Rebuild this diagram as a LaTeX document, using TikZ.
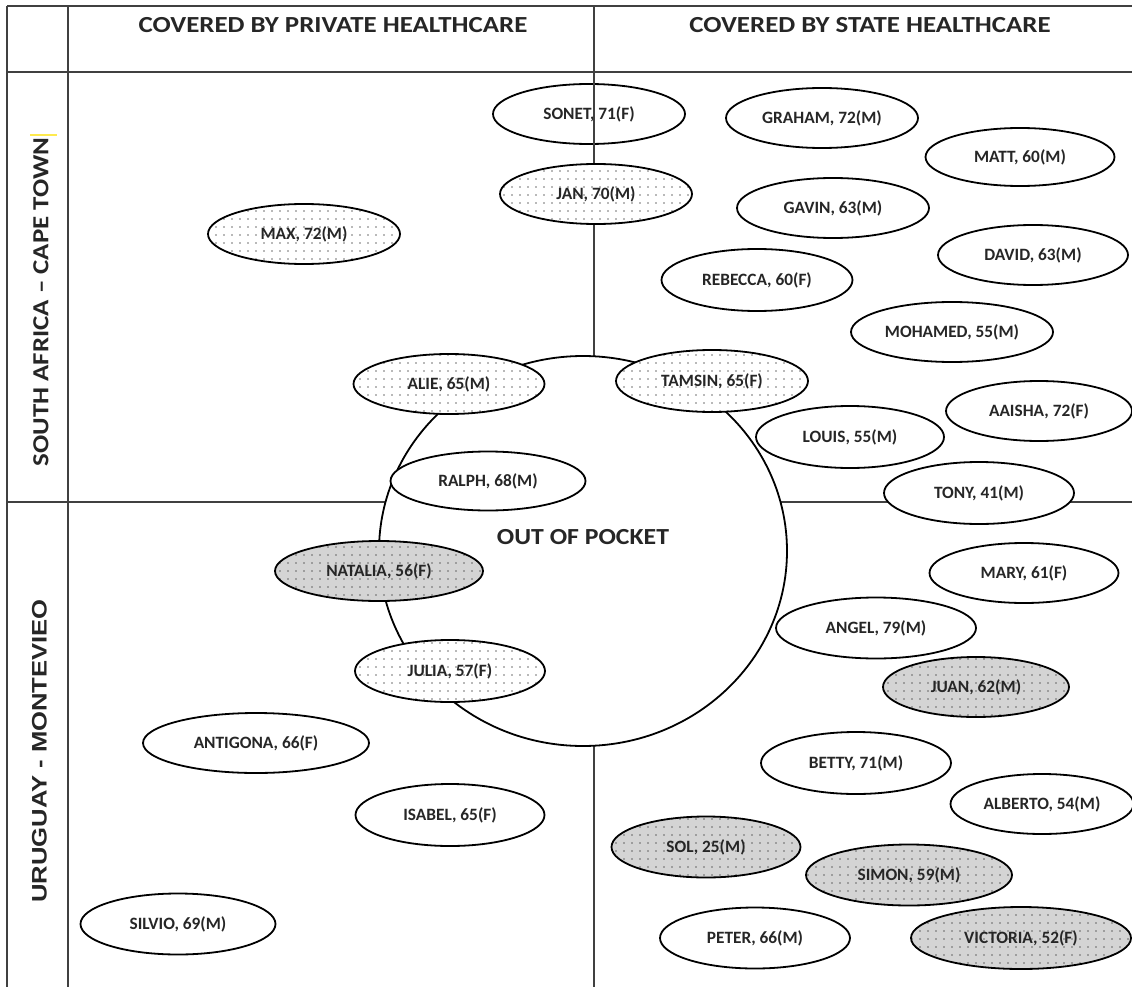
\documentclass[tikz,border=0pt]{standalone}
\usepackage{fontspec}
\setmainfont{Carlito}
\newfontfamily\arialb{Liberation Sans}
\usetikzlibrary{shapes.geometric,patterns.meta}
\tikzset{
  grid/.style={draw=black!75, line width=1.4pt},
  person/.style={ellipse, draw=black, line width=1.8pt, minimum width=192pt, minimum height=60pt,
    inner sep=0pt, fill=white, text=black!85, font=\bfseries\fontsize{17.3}{18}\selectfont},
  lightdots/.style={person, fill=none, preaction={fill=white}, pattern={Dots[distance=8pt,radius=0.9pt]}, pattern color=black!55},
  graydots/.style={person, fill=none, preaction={fill=black!17}, pattern={Dots[distance=8pt,radius=0.9pt]}, pattern color=black!60},
  header/.style={font=\bfseries\fontsize{23}{24}\selectfont, text=black!85},
}
\newcommand{\wide}[2]{\scalebox{#1}[1]{#2}}
\begin{document}
\begin{tikzpicture}[x=1pt,y=-1pt]
\useasboundingbox (0,0) rectangle (1132,987);
\fill[white] (0,0) rectangle (1132,987);
% grid
\coordinate (tl) at (7,6);
\coordinate (tr) at (1132,6);
\coordinate (hl) at (7,72);
\coordinate (hr) at (1132,72);
\coordinate (bl) at (7,987);
\coordinate (cl) at (68,6);
\coordinate (cb) at (68,987);
\coordinate (mt) at (594,6);
\coordinate (mb) at (594,987);
\coordinate (ml) at (7,502);
\coordinate (mr) at (1132,502);
\draw[grid] (tl) -- (tr);
\draw[grid] (hl) -- (hr);
\draw[grid] (tl) -- (bl);
\draw[grid] (cl) -- (cb);
\draw[grid] (ml) -- (mr);
\draw[grid] (mt) -- (mb);
% yellow mark
\coordinate (y1) at (30,135);
\coordinate (y2) at (57,135);
\draw[yellow!85!orange, line width=1.2pt, opacity=0.7] (y1) -- (y2);
% headers
\node[header] (hp) at (333,25) {\wide{1.17}{COVERED BY PRIVATE HEALTHCARE}};
\node[header] (hs) at (870,25) {\wide{1.17}{COVERED BY STATE HEALTHCARE}};
\node[header, rotate=90] (sa) at (41,302) {\wide{1.17}{SOUTH AFRICA – CAPE TOWN}};
\node[rotate=90, text=black!85, font=\arialb\bfseries\fontsize{21}{22}\selectfont] (uy) at (39.5,751) {\wide{1.22}{URUGUAY - MONTEVIEO}};
% out of pocket circle
\node[ellipse, draw=black, line width=1.8pt, fill=white, minimum width=408pt, minimum height=390pt, inner sep=0pt] (oop) at (583,551) {};
\node[header] (oopt) at (583,537) {\wide{1.12}{OUT OF POCKET}};
% people
\node[person] (sonet) at (589,114) {SONET, 71(F)};
\draw[grid] (594,72) -- (594,165);
\node[person] (graham) at (822,118) {GRAHAM, 72(M)};
\node[person, minimum width=189pt, minimum height=58pt] (matt) at (1020,157) {MATT, 60(M)};
\node[lightdots] (jan) at (596,194) {JAN, 70(M)};
\node[person] (gavin) at (833,208) {GAVIN, 63(M)};
\node[lightdots] (max) at (304,234) {MAX, 72(M)};
\node[person, minimum width=190pt] (david) at (1033,255) {DAVID, 63(M)};
\node[person, minimum width=191pt, minimum height=62pt] (rebecca) at (757,280) {REBECCA, 60(F)};
\node[person, minimum width=202pt] (mohamed) at (952,332) {MOHAMED, 55(M)};
\node[lightdots, minimum width=191pt] (alie) at (449,384) {ALIE, 65(M)};
\node[lightdots, minimum height=62pt] (tamsin) at (712,381) {TAMSIN, 65(F)};
\node[person, minimum width=186pt] (aaisha) at (1039,411) {AAISHA, 72(F)};
\node[person, minimum width=188pt, minimum height=62pt] (louis) at (850,437) {LOUIS, 55(M)};
\node[person, minimum width=195pt, minimum height=59pt] (ralph) at (488,481) {RALPH, 68(M)};
\node[person, minimum width=190pt, minimum height=62pt] (tony) at (979,493) {TONY, 41(M)};
\node[graydots, minimum width=208pt, minimum height=60pt] (natalia) at (379,571) {NATALIA, 56(F)};
\node[person, minimum width=189pt] (mary) at (1024,573) {MARY, 61(F)};
\node[person, minimum width=200pt, minimum height=61pt] (angel) at (876,628) {ANGEL, 79(M)};
\node[lightdots, minimum width=190pt, minimum height=62pt] (julia) at (450,671) {JULIA, 57(F)};
\node[graydots, minimum width=186pt] (juan) at (976,687) {JUAN, 62(M)};
\node[person, minimum width=226pt] (antigona) at (256,743) {ANTIGONA, 66(F)};
\node[person, minimum width=190pt, minimum height=62pt] (betty) at (856,763) {BETTY, 71(M)};
\node[person, minimum width=183pt] (alberto) at (1042,804) {ALBERTO, 54(M)};
\node[person, minimum width=189pt, minimum height=62pt] (isabel) at (450,815) {ISABEL, 65(F)};
\node[graydots, minimum width=189pt, minimum height=61pt] (sol) at (706,847) {SOL, 25(M)};
\node[graydots, minimum width=206pt, minimum height=61pt] (simon) at (909,875) {SIMON, 59(M)};
\node[person, minimum width=195pt, minimum height=61pt] (silvio) at (178,924) {SILVIO, 69(M)};
\node[person, minimum width=190pt, minimum height=61pt] (peter) at (755,938) {PETER, 66(M)};
\node[graydots, minimum width=220pt, minimum height=62pt] (victoria) at (1021,938) {VICTORIA, 52(F)};
\end{tikzpicture}
\end{document}
